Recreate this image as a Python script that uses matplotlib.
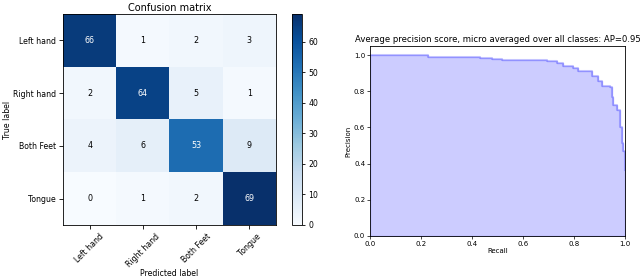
import numpy as np
import matplotlib
matplotlib.use('Agg')
import matplotlib.pyplot as plt

# Confusion matrix data
classes = ['Left hand', 'Right hand', 'Both Feet', 'Tongue']
cm = np.array([[66, 1, 2, 3],
               [2, 64, 5, 1],
               [4, 6, 53, 9],
               [0, 1, 2, 69]])

# Precision-recall curve (step 'post')
recall = [0.0, 0.229, 0.431, 0.477, 0.516, 0.575, 0.693, 0.732, 0.758,
          0.797, 0.817, 0.869, 0.895, 0.908, 0.941, 0.948, 0.954, 0.967,
          0.980, 0.987, 0.993, 1.0]
precision = [1.0, 0.988, 0.982, 0.978, 0.975, 0.971, 0.965, 0.956, 0.937,
             0.928, 0.91, 0.882, 0.854, 0.83, 0.823, 0.77, 0.725, 0.697,
             0.605, 0.513, 0.467, 0.365]
ap = 0.95

fig = plt.figure(figsize=(6.4, 2.79), dpi=100)

# Left: confusion matrix
ax1 = fig.add_axes([63 / 640, 1 - 225 / 279, 213 / 640, 211 / 279])
im = ax1.imshow(cm, interpolation='nearest', cmap=plt.cm.Blues, aspect='auto')
ax1.set_title('Confusion matrix', fontsize=7, pad=2)
ticks = np.arange(len(classes))
ax1.set_xticks(ticks)
ax1.set_xticklabels(classes, rotation=45, fontsize=5.6)
ax1.set_yticks(ticks)
ax1.set_yticklabels(classes, fontsize=5.6)
ax1.tick_params(length=3, width=0.6, pad=2)
thresh = cm.max() / 2.
for i in range(cm.shape[0]):
    for j in range(cm.shape[1]):
        ax1.text(j, i, format(cm[i, j], 'd'), ha='center', va='center',
                 fontsize=5.8, color='white' if cm[i, j] > thresh else 'black')
ax1.set_ylabel('True label', fontsize=5.6, labelpad=1)
ax1.set_xlabel('Predicted label', fontsize=5.6, labelpad=0)
for s in ax1.spines.values():
    s.set_linewidth(0.6)

cax = fig.add_axes([292 / 640, 1 - 225 / 279, 10 / 640, 211 / 279])
cb = fig.colorbar(im, cax=cax)
cb.set_ticks([0, 10, 20, 30, 40, 50, 60])
cb.ax.tick_params(labelsize=5.6, length=2.5, width=0.6, pad=2)
cb.outline.set_linewidth(0.6)

# Right: precision-recall
ax2 = fig.add_axes([370 / 640, 1 - 236 / 279, 255 / 640, 190 / 279])
ax2.step(recall, precision, color='b', alpha=0.2, where='post')
ax2.fill_between(recall, precision, step='post', alpha=0.2, color='b')
ax2.set_xlim(0.0, 1.0)
ax2.set_ylim(0.0, 1.05)
ax2.set_xlabel('Recall', fontsize=5, labelpad=1)
ax2.set_ylabel('Precision', fontsize=5, labelpad=2)
ax2.tick_params(labelsize=5, length=2, width=0.5, pad=1.5)
ax2.set_title('Average precision score, micro averaged over all classes: AP={0:0.2f}'.format(ap),
              fontsize=6.1, pad=3)
for s in ax2.spines.values():
    s.set_linewidth(0.6)

fig.savefig('out.png', dpi=100)
